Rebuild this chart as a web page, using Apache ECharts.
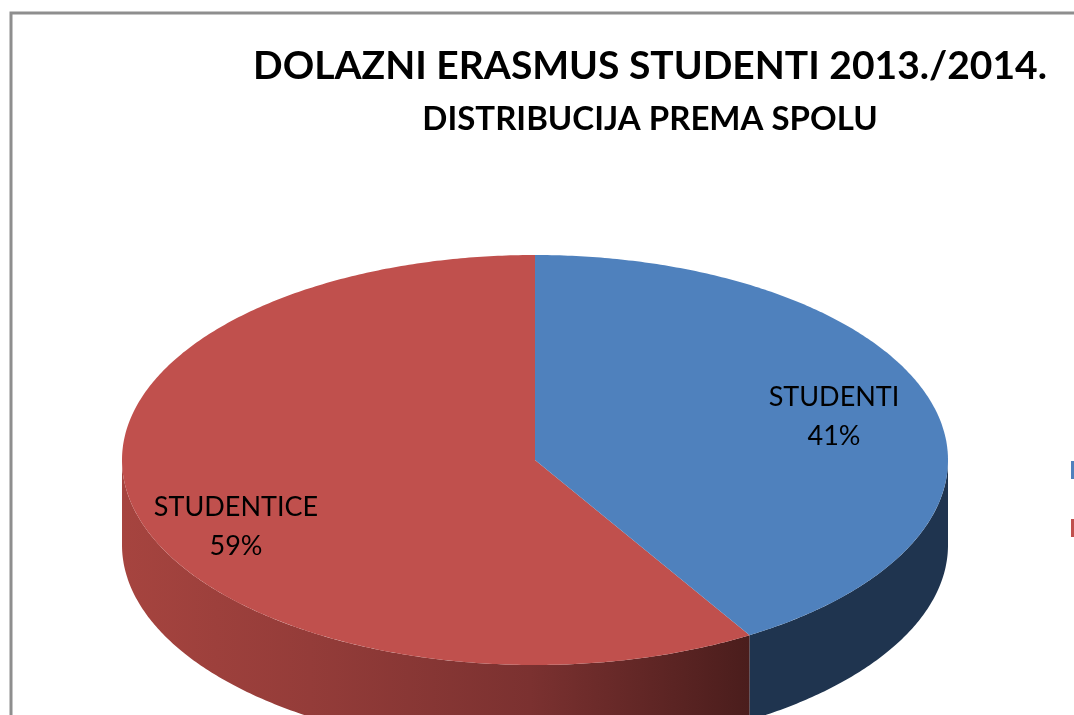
<!DOCTYPE html>
<html>
<head>
<meta charset="utf-8">
<style>html,body{margin:0;padding:0;background:#fff;overflow:hidden}#c{width:1074px;height:715px}</style>
<script src="https://cdn.jsdelivr.net/npm/echarts@6/dist/echarts.min.js"></script>
</head>
<body>
<div id="c"></div>
<script>
const categories = ['STUDENTI', 'STUDENTICE'];
const values = [41.3, 58.7];
const topColors = ['#4f81bd', '#c0504d'];

const chart = echarts.init(document.getElementById('c'), null, {renderer: 'canvas'});
const cx = 535, cy = 460, rx = 413, ry = 205, depth = 85;
const total = values.reduce((a, b) => a + b, 0);
const FONT = 'Lato, Carlito, sans-serif';

function pt(t, dy) { return [cx + rx * Math.sin(t), cy + dy - ry * Math.cos(t)]; }
function arc(a, b, dy) {
  const out = [], n = Math.max(2, Math.ceil((b - a) / 0.01));
  for (let i = 0; i <= n; i++) out.push(pt(a + (b - a) * i / n, dy));
  return out;
}
const wallFill = [
  '#1f344f',
  {type: 'linear', x: 122, y: 0, x2: 750, y2: 0, global: true, colorStops: [
    {offset: 0, color: '#a6443f'}, {offset: 0.3, color: '#943c39'},
    {offset: 0.65, color: '#7b3130'}, {offset: 1, color: '#4a1d1c'}]}
];
const labelPos = [[834, 417], [236, 527]];

function makeSeries(i) {
  const start = values.slice(0, i).reduce((a, b) => a + b, 0) / total * 2 * Math.PI;
  const end = start + values[i] / total * 2 * Math.PI;
  return {
    type: 'custom', name: categories[i], coordinateSystem: 'none',
    color: topColors[i], z: i === 0 ? 3 : 2, silent: true, animation: false,
    data: [values[i]],
    renderItem() {
      const children = [];
      const a = Math.max(start, Math.PI / 2), b = Math.min(end, Math.PI * 1.5);
      if (b > a) {
        const up = arc(a, b, 0), low = arc(a, b, depth).reverse();
        children.push({type: 'polygon', shape: {points: up.concat(low)}, style: {fill: wallFill[i]}});
      }
      children.push({type: 'polygon', shape: {points: [[cx, cy]].concat(arc(start, end, 0))}, style: {fill: topColors[i]}});
      children.push({type: 'text', x: labelPos[i][0], y: labelPos[i][1], style: {
        text: categories[i] + '\n' + Math.round(values[i]) + '%', fill: '#000', font: '27px ' + FONT,
        align: 'center', verticalAlign: 'middle', lineHeight: 39}});
      return {type: 'group', children};
    }
  };
}

chart.setOption({
  animation: false,
  backgroundColor: '#fff',
  title: [
    {text: 'DOLAZNI ERASMUS STUDENTI 2013./2014.', left: 645, top: 42, textAlign: 'center',
     textStyle: {fontFamily: FONT, fontSize: 39, fontWeight: 'bold', color: '#000'}},
    {text: 'DISTRIBUCIJA PREMA SPOLU', left: 645, top: 98, textAlign: 'center',
     textStyle: {fontFamily: FONT, fontSize: 33, fontWeight: 'bold', color: '#000'}}
  ],
  legend: {orient: 'vertical', left: 1071, top: 461, itemWidth: 18, itemHeight: 18, itemGap: 40, padding: 0,
    data: categories, formatter: () => '', selectedMode: false, icon: 'rect', textStyle: {fontSize: 10}},
  graphic: [
    {type: 'polyline', shape: {points: [[11, 715], [11, 13], [1074, 13]]},
     style: {stroke: '#8e8e8e', lineWidth: 3, fill: null}}
  ],
  series: categories.map((_, i) => makeSeries(i))
});
</script>
</body>
</html>
